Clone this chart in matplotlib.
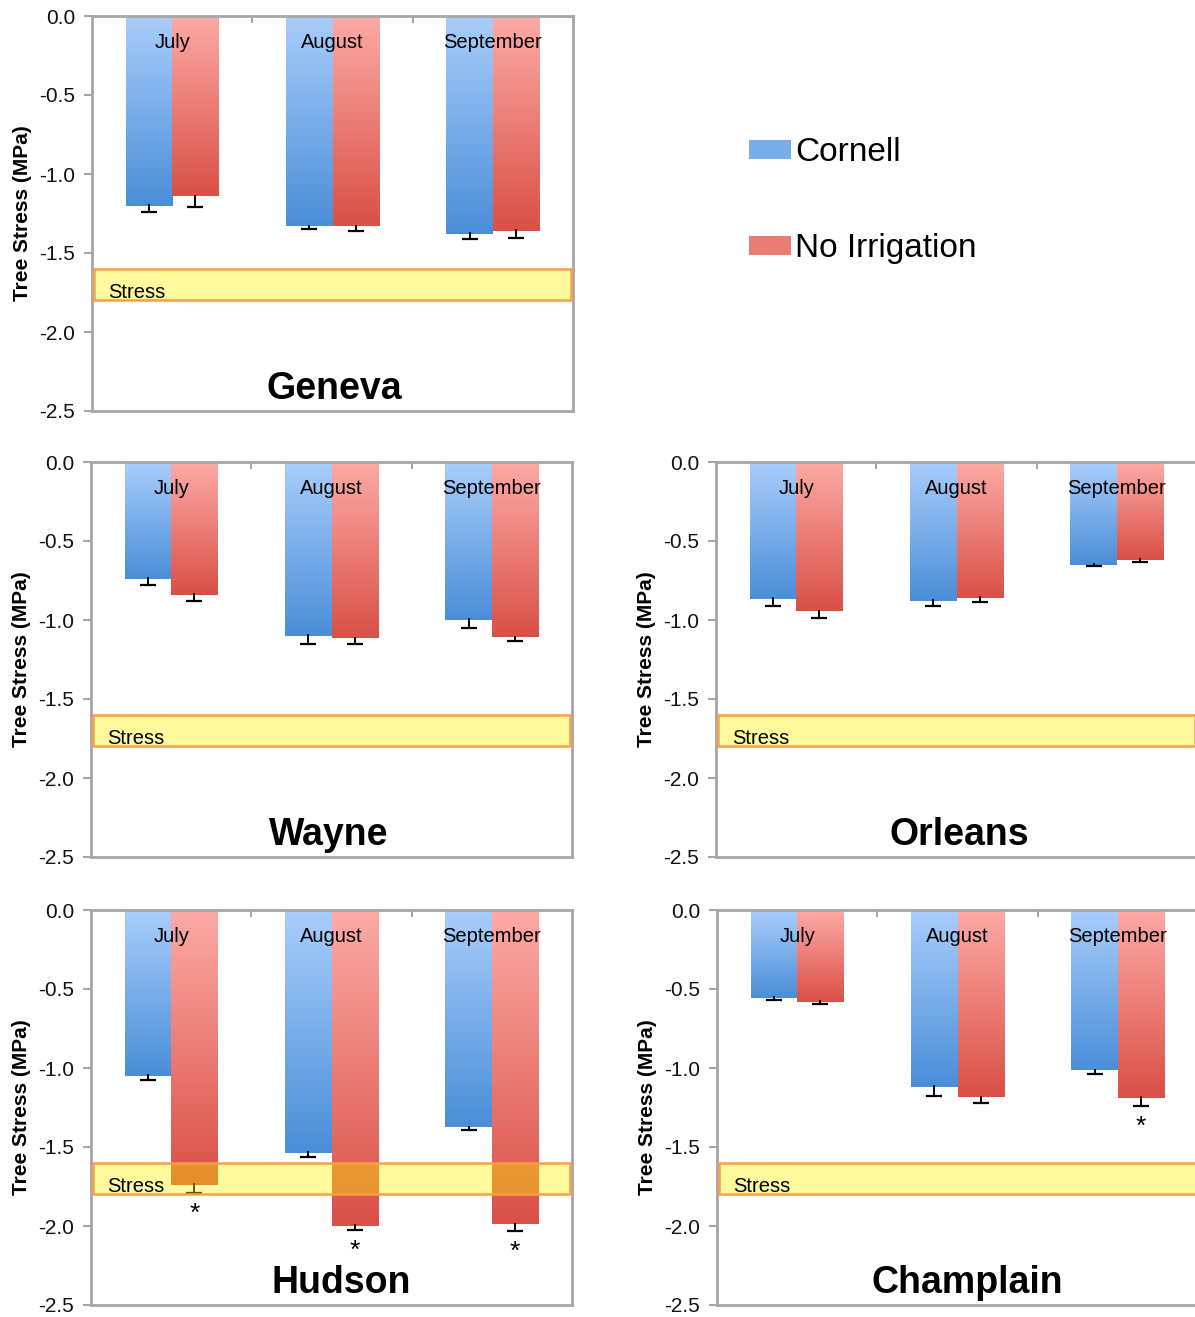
import numpy as np
import matplotlib
matplotlib.use('Agg')
import matplotlib.pyplot as plt
from matplotlib.colors import LinearSegmentedColormap
from matplotlib.patches import Patch

plt.rcParams['font.family'] = ['Liberation Sans', 'DejaVu Sans']

# data (MPa)
months = ['July', 'August', 'September']
sites = ['Geneva', 'Wayne', 'Orleans', 'Hudson', 'Champlain']

cornell = {
    'Geneva':    [-1.20, -1.33, -1.38],
    'Wayne':     [-0.74, -1.10, -1.00],
    'Orleans':   [-0.865, -0.88, -0.65],
    'Hudson':    [-1.05, -1.535, -1.375],
    'Champlain': [-0.555, -1.12, -1.015],
}
cornell_err = {
    'Geneva':    [0.04, 0.02, 0.03],
    'Wayne':     [0.04, 0.055, 0.05],
    'Orleans':   [0.045, 0.03, 0.01],
    'Hudson':    [0.025, 0.03, 0.02],
    'Champlain': [0.015, 0.06, 0.02],
}
no_irr = {
    'Geneva':    [-1.14, -1.33, -1.36],
    'Wayne':     [-0.84, -1.115, -1.11],
    'Orleans':   [-0.945, -0.86, -0.62],
    'Hudson':    [-1.74, -2.00, -1.99],
    'Champlain': [-0.58, -1.185, -1.19],
}
no_irr_err = {
    'Geneva':    [0.07, 0.03, 0.045],
    'Wayne':     [0.04, 0.04, 0.025],
    'Orleans':   [0.04, 0.025, 0.012],
    'Hudson':    [0.05, 0.025, 0.04],
    'Champlain': [0.012, 0.035, 0.048],
}
significant = {
    'Hudson':    [True, True, True],
    'Champlain': [False, False, True],
}
stress_low, stress_high = -1.8, -1.6

blue_cmap = LinearSegmentedColormap.from_list('b', ['#A9CDFB', '#4A8ED8'])
red_cmap = LinearSegmentedColormap.from_list('r', ['#FDAAA6', '#D95046'])

W, H = 1195, 1317
fig = plt.figure(figsize=(W / 100, H / 100), dpi=100)

# axes boxes in pixels: left, top, and where the site name sits
boxes = {
    'Geneva': (92, 16, 1.01),
    'Wayne': (91, 462, 0.98),
    'Orleans': (716, 462, 1.02),
    'Hudson': (91, 910, 1.06),
    'Champlain': (717, 910, 1.06),
}
aw, ah = 481, 395
grid_col = '#A6A6A6'


def gradient_bars(ax, x, vals, cmap, width):
    bars = ax.bar(x, vals, width=width, color='none', edgecolor='none')
    grad = np.linspace(0, 1, 256).reshape(-1, 1)
    for b in bars:
        x0 = b.get_x()
        v = b.get_height()
        im = ax.imshow(grad, cmap=cmap, extent=(x0, x0 + b.get_width(), v, 0),
                       origin='upper', aspect='auto', zorder=2)
        im.set_clip_path(b)
    return bars


for site in sites:
    l, t, tx = boxes[site]
    ax = fig.add_axes([l / W, 1 - (t + ah) / H, aw / W, ah / H])
    x = np.arange(len(months))
    bw = 0.29
    xc = x - bw / 2
    xn = x + bw / 2
    gradient_bars(ax, xc, cornell[site], blue_cmap, bw)
    gradient_bars(ax, xn, no_irr[site], red_cmap, bw)

    for xs, vals, errs in [(xc, cornell[site], cornell_err[site]),
                           (xn, no_irr[site], no_irr_err[site])]:
        vals = np.array(vals)
        errs = np.array(errs)
        ax.vlines(xs, vals + 0.01, vals - errs, color='black', lw=1.4, zorder=3)
        ax.plot(xs, vals - errs, ls='none', marker='_', ms=12, mew=1.6,
                color='black', zorder=3)

    if site in significant:
        for i, s in enumerate(significant[site]):
            if s:
                ax.text(xn[i], no_irr[site][i] - no_irr_err[site][i] - 0.135, '*',
                        ha='center', va='center', fontsize=19, zorder=5)

    ax.axhspan(stress_low, stress_high, xmin=0.004, xmax=0.996,
               facecolor=(1.0, 0.95, 0.0, 0.38), edgecolor='#F7A045', lw=1.8,
               zorder=4)
    ax.text(-0.4, stress_low + 0.015, 'Stress', fontsize=14.5, va='baseline',
            ha='left', zorder=5)

    for i, m in enumerate(months):
        ax.text(x[i], -0.165, m, ha='center', va='center', fontsize=14.5,
                zorder=5)

    ax.text(tx, -2.36, site, ha='center', va='center', fontsize=27,
            fontweight='bold')

    ax.set_xlim(-0.5, 2.5)
    ax.set_ylim(-2.5, 0)
    ax.set_yticks([0, -0.5, -1.0, -1.5, -2.0, -2.5])
    ax.set_yticklabels(['0.0', '-0.5', '-1.0', '-1.5', '-2.0', '-2.5'])
    ax.set_xticks([0.5, 1.5])
    ax.set_xticklabels([])
    ax.tick_params(axis='y', direction='out', length=6, width=1.5,
                   color=grid_col, labelsize=15, pad=6, labelcolor='#111111')
    ax.tick_params(axis='x', direction='in', length=5, width=1.5,
                   color=grid_col, top=True, bottom=False)
    for sp in ax.spines.values():
        sp.set_color(grid_col)
        sp.set_linewidth(2)
    ax.set_ylabel('Tree Stress (MPa)', fontsize=15, fontweight='bold')
    ax.yaxis.set_label_coords(-0.125, 0.5)

handles = [Patch(facecolor='#78ADEA', edgecolor='none'),
           Patch(facecolor='#EB7C75', edgecolor='none')]
fig.legend(handles, ['Cornell', 'No Irrigation'], loc='upper left',
           bbox_to_anchor=(736 / W, 1 - 124 / H), frameon=False, fontsize=24,
           handlelength=1.25, handleheight=0.5, handletextpad=0.12,
           labelspacing=1.95, borderaxespad=0)

fig.savefig('out.png', dpi=100)
